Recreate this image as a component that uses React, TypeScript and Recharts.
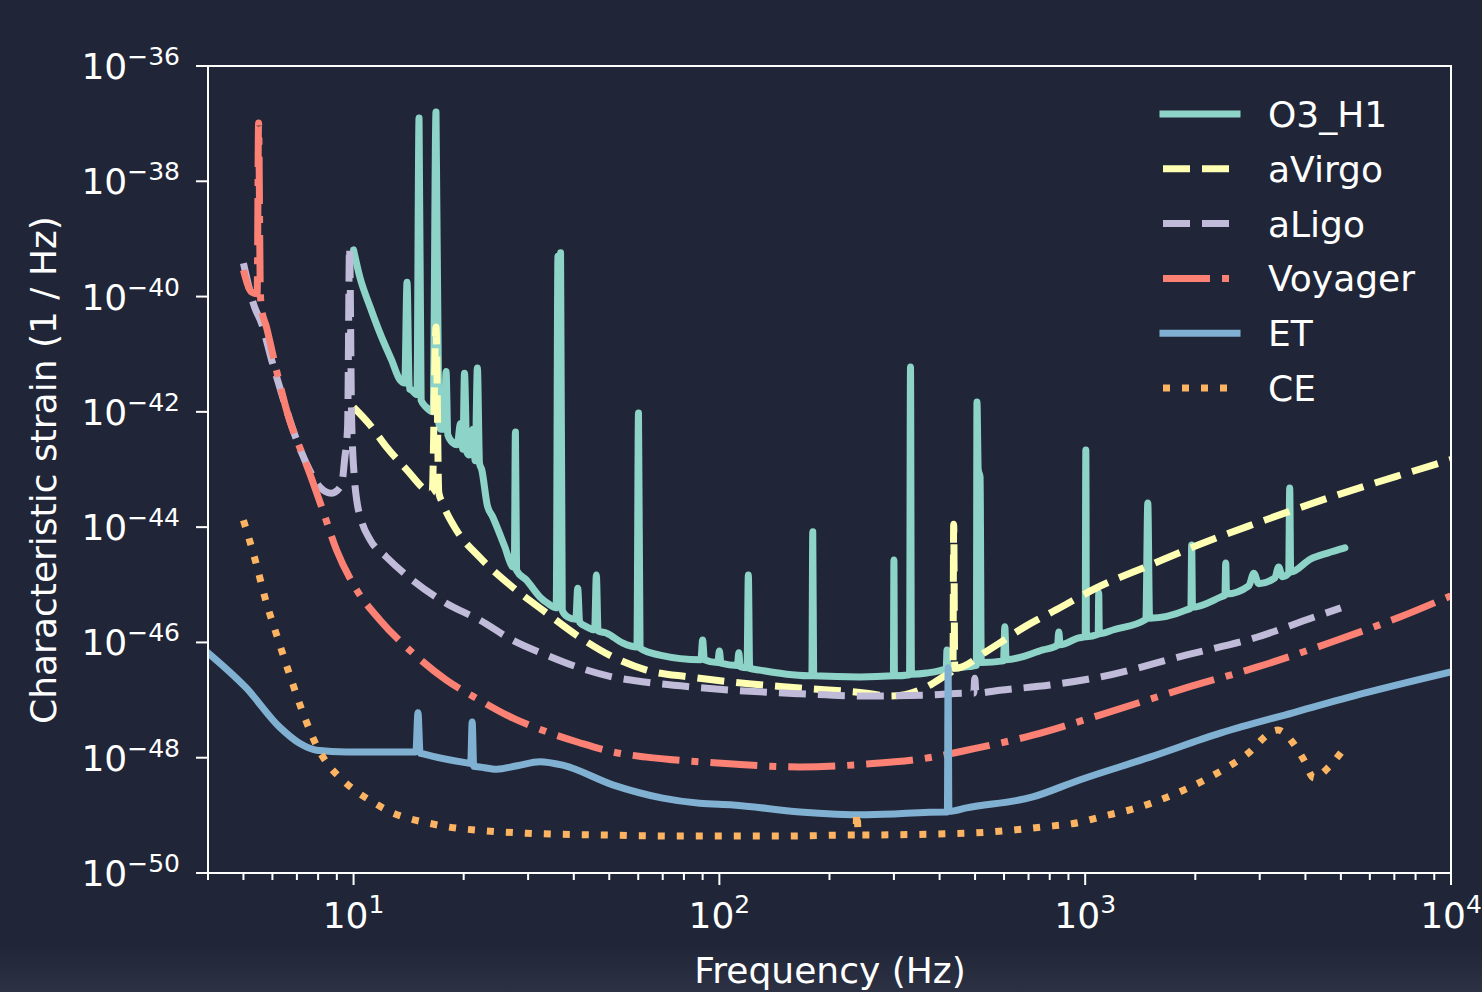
import { Line, LineChart, XAxis, YAxis } from "recharts";

// frequency in Hz, strain given as log10 (exponent) values
const o3Freq = [
  10, 10.4, 11.1, 11.8, 12.7, 13.4, 13.8, 14.0, 14.2, 14.4, 14.9, 15.1, 15.3, 15.8, 16.5, 16.8, 17.1, 17.3,
  17.7, 17.9, 18.1, 18.7, 19.2, 19.6, 19.9, 20.1, 20.4, 20.7, 21.2, 21.5, 21.8, 22.1, 22.4, 23.2, 24.0,
  25.9, 27.2, 27.5, 27.7, 27.9, 29.7, 32.3, 33.9, 35.8, 36.2, 36.5, 36.8, 37.2, 38.5, 40.5, 41.0, 41.5,
  43.4, 45.6, 46.1, 46.6, 49.2, 54.4, 59.5, 60.1, 60.7, 68.7, 89, 90, 91, 99, 100, 101, 112, 113, 114,
  119, 120, 121, 129, 158, 179, 180, 181, 242, 299, 300, 301, 331, 333, 335, 369, 417, 419, 421, 480,
  504, 506, 510, 516, 520, 598, 603, 608, 766, 840, 847, 854, 960, 1000, 1004, 1008, 1085, 1089, 1093,
  1197, 1465, 1483, 1500, 1884, 1945, 1955, 1965, 2351, 2410, 2422, 2434, 2800, 2891, 2980, 3300, 3380,
  3460, 3600, 3623, 3646, 4140, 4600, 5130,
];
const o3Strain = [
  -39.19, -39.66, -40.18, -40.63, -41.1, -41.45, -41.5, -39.75, -41.6, -41.62, -41.7, -36.9, -41.8, -41.92,
  -42.0, -36.8, -42.2, -42.3, -42.3, -41.3, -42.4, -42.54, -42.57, -42.2, -42.65, -41.33, -42.7, -42.75,
  -42.3, -42.85, -41.24, -42.9, -43.0, -43.62, -43.82, -44.34, -44.69, -44.7, -42.35, -44.75, -44.92,
  -45.21, -45.32, -45.4, -39.3, -45.0, -39.24, -45.45, -45.56, -45.6, -45.06, -45.65, -45.73, -45.78,
  -44.83, -45.8, -45.84, -46.01, -46.08, -42.02, -46.1, -46.22, -46.3, -45.96, -46.3, -46.35, -46.15,
  -46.36, -46.4, -46.18, -46.42, -46.44, -44.83, -46.45, -46.48, -46.56, -46.58, -44.08, -46.58, -46.6,
  -46.58, -44.57, -46.58, -46.56, -41.22, -46.55, -46.53, -46.45, -46.13, -46.45, -46.42, -46.4, -41.83,
  -43.0, -43.13, -46.35, -46.32, -45.73, -46.3, -46.13, -46.05, -45.82, -46.04, -45.92, -45.9, -42.66,
  -45.9, -45.86, -45.14, -45.85, -45.78, -45.6, -43.58, -45.58, -45.44, -45.4, -44.31, -45.39, -45.21,
  -45.18, -44.62, -45.16, -45.02, -44.8, -44.98, -44.88, -44.69, -44.86, -44.8, -43.32, -44.78, -44.55,
  -44.45, -44.36,
];

const virgoFreq = [
  10, 11.1, 12.3, 14.0, 15.8, 16.4, 16.8, 17.1, 17.5, 19.1, 22.1, 27.2, 33.7, 41.5, 51.1, 63.2, 83, 109,
  166, 253, 292, 369, 408, 435, 437, 440, 545, 683, 858, 1069, 1503, 2110, 2944, 4637, 7244, 10000,
];
const virgoStrain = [
  -41.92, -42.23, -42.61, -43.01, -43.36, -43.4, -40.53, -43.4, -43.58, -44.05, -44.52, -45.04, -45.49,
  -45.91, -46.25, -46.48, -46.6, -46.69, -46.79, -46.88, -46.93, -46.77, -46.6, -46.48, -43.95, -46.45,
  -46.13, -45.73, -45.39, -45.06, -44.66, -44.27, -43.93, -43.49, -43.1, -42.83,
];

const ligoFreq = [
  5.0, 5.36, 5.6, 5.97, 6.28, 6.99, 7.58, 8.08, 8.71, 9.27, 9.45, 9.63, 9.75, 9.88, 10.06, 10.2, 10.5,
  11.1, 12.3, 14.5, 17.9, 22.1, 27.2, 33.7, 41.5, 51.1, 63.2, 83, 109, 166, 253, 383, 474, 496, 499, 503,
  584, 800, 1096, 1884, 2944, 4140, 5000,
];
const ligoStrain = [
  -39.42, -40.18, -40.46, -41.1, -41.57, -42.49, -43.01, -43.3, -43.41, -43.27, -42.83, -42.26, -39.14,
  -42.14, -43.18, -43.53, -43.88, -44.22, -44.52, -44.92, -45.32, -45.61, -45.96, -46.22, -46.44, -46.6,
  -46.69, -46.77, -46.83, -46.89, -46.93, -46.91, -46.88, -46.88, -46.62, -46.88, -46.83, -46.74, -46.6,
  -46.22, -45.91, -45.58, -45.4,
];

const voyagerFreq = [
  5.0, 5.26, 5.45, 5.5, 5.56, 5.6, 5.78, 6.15, 6.68, 7.12, 7.58, 8.18, 8.99, 10.2, 11.8, 14.5, 17.9, 22.1,
  27.2, 33.7, 41.5, 51.1, 63.2, 88.3, 109, 166, 253, 383, 474, 719, 1096, 1884, 2944, 4637, 7244, 10000,
];
const voyagerStrain = [
  -39.54, -39.92, -39.95, -36.99, -39.9, -40.2, -40.53, -41.27, -42.14, -42.61, -43.06, -43.65, -44.4,
  -45.09, -45.61, -46.18, -46.65, -47.0, -47.31, -47.55, -47.74, -47.9, -47.99, -48.07, -48.11, -48.16,
  -48.11, -47.99, -47.87, -47.61, -47.26, -46.79, -46.43, -46.01, -45.56, -45.19,
];

const etFreq = [
  4, 5.09, 6.28, 7.12, 7.92, 9.57, 14.5, 14.8, 15.0, 15.2, 15.4, 20.4, 20.9, 21.1, 21.3, 22.1, 24.6, 28,
  32.3, 37.3, 51.1, 70, 88.3, 109, 166, 253, 416, 420, 422, 424, 474, 719, 961, 1503, 2351, 3697, 5786,
  10000,
];
const etStrain = [
  -46.18, -46.79, -47.47, -47.75, -47.87, -47.9, -47.9, -47.9, -47.22, -47.92, -47.93, -48.09, -48.1,
  -47.38, -48.15, -48.16, -48.2, -48.14, -48.07, -48.13, -48.47, -48.7, -48.79, -48.82, -48.94, -48.99,
  -48.94, -48.94, -46.44, -48.93, -48.87, -48.68, -48.39, -47.99, -47.57, -47.22, -46.88, -46.51,
];

const ceFreq = [
  5.0, 5.4, 5.74, 6.19, 6.68, 7.26, 7.98, 8.5, 9.27, 10.2, 11.3, 12.6, 14.1, 15.9, 18.1, 23.1, 29.7, 47.1,
  79.4, 146, 234, 236, 237.5, 240, 474, 766, 967, 1096, 1384, 1757, 2204, 2730, 3363, 3697, 3962, 4220,
  4637, 5060,
];
const ceStrain = [
  -43.88, -44.6, -45.25, -45.91, -46.55, -47.21, -47.83, -48.11, -48.37, -48.59, -48.77, -48.94, -49.05,
  -49.13, -49.2, -49.27, -49.31, -49.34, -49.36, -49.36, -49.34, -49.34, -48.95, -49.34, -49.31, -49.2,
  -49.12, -49.03, -48.87, -48.63, -48.33, -47.97, -47.52, -47.74, -48.04, -48.35, -48.16, -47.87,
];

const xTicks = [
  4, 5, 6, 7, 8, 9, 10, 20, 30, 40, 50, 60, 70, 80, 90, 100, 200, 300, 400, 500, 600, 700, 800, 900, 1000,
  2000, 3000, 4000, 5000, 6000, 7000, 8000, 9000, 10000,
];
const xMajor = [10, 100, 1000, 10000];
const yTicks = [-50, -48, -46, -44, -42, -40, -38, -36];

const toRows = (freq: number[], strain: number[]) => freq.map((f, i) => ({ f, h: strain[i] }));

const series = [
  { name: "O3_H1", rows: toRows(o3Freq, o3Strain), color: "#8dd3c7", dash: undefined },
  { name: "aVirgo", rows: toRows(virgoFreq, virgoStrain), color: "#feffb3", dash: "27 12" },
  { name: "aLigo", rows: toRows(ligoFreq, ligoStrain), color: "#bfbbd9", dash: "27 12" },
  { name: "Voyager", rows: toRows(voyagerFreq, voyagerStrain), color: "#fa8174", dash: "47 12 7 12" },
  { name: "ET", rows: toRows(etFreq, etStrain), color: "#81b1d2", dash: undefined },
  { name: "CE", rows: toRows(ceFreq, ceStrain), color: "#fdb462", dash: "7 12" },
];

const BG = "#202637";
const FG = "#ffffff";
const FONT = "DejaVu Sans";
const LW = 7;
// plot box in page pixels
const L = 208;
const T = 66;
const R = 1451;
const B = 873;

const minus = "\u2212";

function XTick(props: any) {
  const { x, payload } = props;
  const v = payload.value;
  const major = xMajor.includes(v);
  return (
    <g>
      <line x1={x} x2={x} y1={B} y2={B + (major ? 12 : 7)} stroke={FG} strokeWidth={2} />
      {major && (
        <text x={x} y={928} textAnchor="middle" fill={FG} fontSize={36} fontFamily={FONT}>
          10
          <tspan dy={-15} fontSize={25}>
            {Math.round(Math.log10(v))}
          </tspan>
        </text>
      )}
    </g>
  );
}

function YTick(props: any) {
  const { y, payload } = props;
  return (
    <g>
      <line x1={L - 12} x2={L} y1={y} y2={y} stroke={FG} strokeWidth={2} />
      <text x={180} y={y + 13} textAnchor="end" fill={FG} fontSize={36} fontFamily={FONT}>
        10
        <tspan dy={-14} fontSize={25}>
          {minus + Math.abs(payload.value)}
        </tspan>
      </text>
    </g>
  );
}

export default function App() {
  return (
    <div
      style={{
        position: "fixed",
        left: 0,
        top: 0,
        width: 1482,
        height: 992,
        background: BG,
        overflow: "hidden",
        fontFamily: FONT,
      }}
    >
      <div
        style={{
          position: "absolute",
          left: 0,
          top: 945,
          width: 1482,
          height: 47,
          background: "linear-gradient(to bottom, rgba(44,49,66,0) 0%, #2c3143 100%)",
        }}
      />
      <div style={{ position: "absolute", left: 0, top: 0 }}>
        <LineChart width={1482} height={992} margin={{ top: T, right: 1482 - R, bottom: 0, left: 0 }}>
          <XAxis
            dataKey="f"
            type="number"
            scale="log"
            domain={[4, 10000]}
            ticks={xTicks}
            interval={0}
            tick={XTick}
            tickLine={false}
            axisLine={false}
            height={992 - B}
            allowDataOverflow
          />
          <YAxis
            type="number"
            domain={[-50, -36]}
            ticks={yTicks}
            interval={0}
            tick={YTick}
            tickLine={false}
            axisLine={false}
            width={L}
            allowDataOverflow
          />
          {series.map((s) => (
            <Line
              key={s.name}
              data={s.rows}
              dataKey="h"
              name={s.name}
              type="monotone"
              stroke={s.color}
              strokeWidth={LW}
              strokeDasharray={s.dash}
              strokeLinecap={s.dash ? "butt" : "round"}
              strokeLinejoin="round"
              dot={false}
              activeDot={false}
              isAnimationActive={false}
            />
          ))}
        </LineChart>
      </div>
      <svg
        width={1482}
        height={992}
        style={{ position: "absolute", left: 0, top: 0, pointerEvents: "none" }}
      >
        <rect x={L} y={T} width={R - L} height={B - T} fill="none" stroke={FG} strokeWidth={2} />
        {series.map((s, i) => {
          const cy = 114 + i * 54.8;
          return (
            <g key={s.name}>
              <line
                x1={1163}
                x2={1237}
                y1={cy}
                y2={cy}
                stroke={s.color}
                strokeWidth={LW}
                strokeDasharray={s.dash}
                strokeLinecap={s.dash ? "butt" : "square"}
              />
              <text x={1268} y={cy + 13} fill={FG} fontSize={36} fontFamily={FONT}>
                {s.name}
              </text>
            </g>
          );
        })}
        <text x={830} y={983} textAnchor="middle" fill={FG} fontSize={36} fontFamily={FONT}>
          Frequency (Hz)
        </text>
        <text
          transform="translate(56,470) rotate(-90)"
          textAnchor="middle"
          fill={FG}
          fontSize={36}
          fontFamily={FONT}
        >
          Characteristic strain (1 / Hz)
        </text>
      </svg>
    </div>
  );
}
